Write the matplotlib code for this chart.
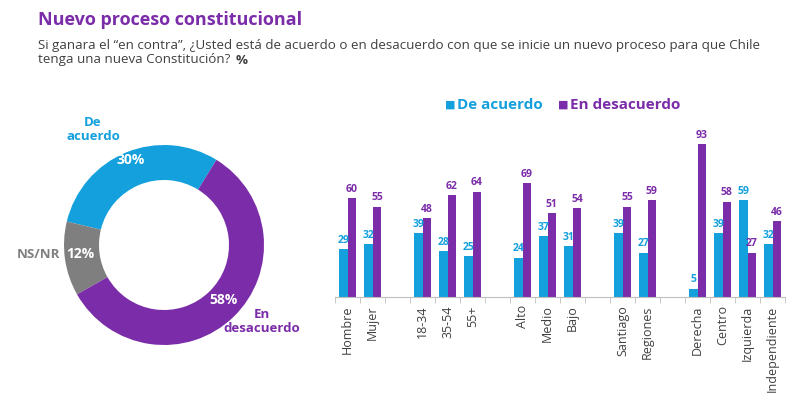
import numpy as np
import matplotlib
matplotlib.use("Agg")
import matplotlib.pyplot as plt

plt.rcParams["font.family"] = ["Open Sans", "DejaVu Sans"]

# ---- data -------------------------------------------------------------------
DONUT_LABELS = ["De acuerdo", "NS/NR", "En desacuerdo"]
DONUT_VALUES = [30, 12, 58]

CATEGORIES = ["Hombre", "Mujer", "",
              "18-34", "35-54", "55+", "",
              "Alto", "Medio", "Bajo", "",
              "Santiago", "Regiones", "",
              "Derecha", "Centro", "Izquierda", "Independiente"]
DE_ACUERDO = [29, 32, None, 39, 28, 25, None, 24, 37, 31, None,
              39, 27, None, 5, 39, 59, 32]
EN_DESACUERDO = [60, 55, None, 48, 62, 64, None, 69, 51, 54, None,
                 55, 59, None, 93, 58, 27, 46]

BLUE = "#14a0dc"
PURPLE = "#7b2ca8"
GREY = "#7f7f7f"
TXT = "#404040"

W, H = 800, 394
fig = plt.figure(figsize=(W / 100, H / 100), dpi=100)

# ---- titles -----------------------------------------------------------------
fig.text(38 / W, 1 - 20 / H, "Nuevo proceso constitucional", color=PURPLE,
         fontsize=13, fontweight="bold", va="center", ha="left")
fig.text(38 / W, 1 - 45 / H,
         "Si ganara el \u201cen contra\u201d, \u00bfUsted est\u00e1 de acuerdo o en desacuerdo con que se inicie un nuevo proceso para que Chile",
         color=TXT, fontsize=9.6, va="center", ha="left")
line2 = fig.text(38 / W, 1 - 60 / H, "tenga una nueva Constituci\u00f3n?", color=TXT,
                 fontsize=9.6, va="center", ha="left")
fig.canvas.draw()
bb = line2.get_window_extent()
fig.text((bb.x1 + 5) / W, 1 - 60 / H, "%", color=TXT, fontsize=9.6,
         fontweight="bold", va="center", ha="left")

# ---- donut ------------------------------------------------------------------
cx, cy, r = 164, 245, 100
axd = fig.add_axes([(cx - 110) / W, (H - cy - 110) / H, 220 / W, 220 / H])
axd.pie(DONUT_VALUES, colors=[BLUE, GREY, PURPLE], startangle=58.4,
        counterclock=True, radius=1.0,
        wedgeprops=dict(width=0.35, edgecolor="none"))
axd.set_xlim(-1.1, 1.1)
axd.set_ylim(-1.1, 1.1)
axd.set_aspect("equal")
axd.axis("off")

axd.text(-0.71, 1.15, "De\nacuerdo", color=BLUE, fontsize=9.5, fontweight="bold",
         ha="center", va="center", linespacing=1.1)
axd.text(-0.33, 0.85, f"{DONUT_VALUES[0]}%", color="white", fontsize=10,
         fontweight="bold", ha="center", va="center")
axd.text(-1.26, -0.09, "NS/NR", color=GREY, fontsize=9.5, fontweight="bold",
         ha="center", va="center")
axd.text(-0.84, -0.09, f"{DONUT_VALUES[1]}%", color="white", fontsize=10,
         fontweight="bold", ha="center", va="center")
axd.text(0.60, -0.55, f"{DONUT_VALUES[2]}%", color="white", fontsize=10,
         fontweight="bold", ha="center", va="center")
axd.text(0.98, -0.76, "En\ndesacuerdo", color=PURPLE, fontsize=9.5,
         fontweight="bold", ha="center", va="center", linespacing=1.1)

# ---- bars -------------------------------------------------------------------
ax = fig.add_axes([335 / W, (H - 297) / H, 450 / W, 164.5 / H])
x = np.arange(len(CATEGORIES))
a = np.array([np.nan if v is None else v for v in DE_ACUERDO], dtype=float)
d = np.array([np.nan if v is None else v for v in EN_DESACUERDO], dtype=float)
bw = 0.35
ax.bar(x - bw / 2, a, width=bw, color=BLUE)
ax.bar(x + bw / 2, d, width=bw, color=PURPLE)

for xi, va_, vd in zip(x, a, d):
    if np.isnan(va_):
        continue
    ax.text(xi - bw / 2, va_ + 2, f"{int(va_)}", color=BLUE, fontsize=7.5,
            fontweight="bold", ha="center", va="bottom")
    ax.text(xi + bw / 2, vd + 2, f"{int(vd)}", color=PURPLE, fontsize=7.5,
            fontweight="bold", ha="center", va="bottom")

ax.set_xlim(-0.5, len(CATEGORIES) - 0.5)
ax.set_ylim(0, 100)
ax.set_xticks(x)
ax.set_xticklabels(CATEGORIES, rotation=90, fontsize=9, color=TXT)
ax.set_xticks(np.arange(-0.5, len(CATEGORIES)), minor=True)
ax.tick_params(axis="x", which="major", length=0, pad=6)
ax.tick_params(axis="x", which="minor", length=4, color="#bfbfbf")
ax.set_yticks([])
for s in ("top", "right", "left"):
    ax.spines[s].set_visible(False)
ax.spines["bottom"].set_color("#bfbfbf")

# ---- legend -----------------------------------------------------------------
fig.text(445 / W, 1 - 105 / H, "\u25a0", color=BLUE, fontsize=8, va="center", ha="left")
fig.text(457 / W, 1 - 105 / H, "De acuerdo", color=BLUE, fontsize=11,
         fontweight="bold", va="center", ha="left")
fig.text(558 / W, 1 - 105 / H, "\u25a0", color=PURPLE, fontsize=8, va="center", ha="left")
fig.text(570 / W, 1 - 105 / H, "En desacuerdo", color=PURPLE, fontsize=11,
         fontweight="bold", va="center", ha="left")

fig.savefig("out.png", dpi=100)
